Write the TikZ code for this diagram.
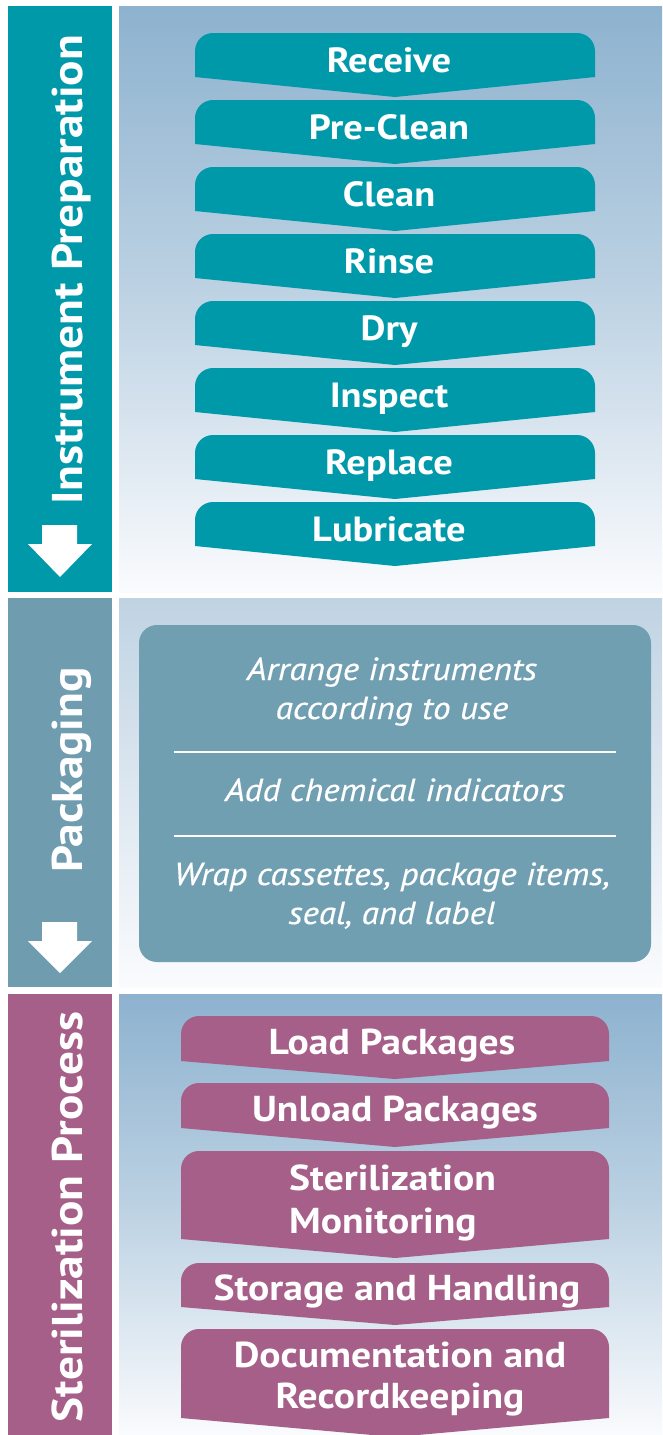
\documentclass[tikz,border=0pt]{standalone}
\usepackage{fontspec}
\setmainfont{PT Sans}[FakeStretch=1.1]
\newfontfamily\itfont{PT Sans Italic}[FakeStretch=1.1,FakeBold=0.4]
\definecolor{teal1}{HTML}{0099AA}
\definecolor{packbar}{HTML}{6F9DAF}
\definecolor{packbox}{HTML}{719FB2}
\definecolor{mag}{HTML}{A55F88}
\definecolor{skytop}{HTML}{8DB2CF}
\definecolor{skytop2}{HTML}{C0D3E3}
\definecolor{skybot}{HTML}{FAFBFD}
\newcommand{\chevshape}[6]{%
  \fill[#6] (#1,#4) -- (#1,#3+18) arc[start angle=180,end angle=270,radius=18]
    -- (#2-18,#3) arc[start angle=270,end angle=360,radius=18]
    -- (#2,#4) -- ({(#1+#2)/2},#5) -- cycle;}
\tikzset{
  vtext/.style={text=white,font=\fontsize{43}{50}\selectfont\bfseries,rotate=90,anchor=base,inner sep=0},
  ctext/.style={text=white,font=\fontsize{35}{43}\selectfont\bfseries,anchor=base,inner sep=0},
  mtext/.style={text=white,font=\fontsize{36}{43}\selectfont\bfseries,anchor=base,inner sep=0},
  itext/.style={text=white,font=\fontsize{32}{40}\selectfont\itfont,anchor=base,inner sep=0},
  downarrow/.style={fill=white},
  sep/.style={draw=white,line width=1.5pt}
}
\begin{document}
\begin{tikzpicture}[x=1pt,y=-1pt]
\useasboundingbox (0,0) rectangle (662,1435);
\fill[white] (0,0) rectangle (662,1435);
% panels
\fill[teal1] (8,6) rectangle (112,592);
\shade[top color=skytop,bottom color=skybot,middle color=skytop!55!skybot] (119,6) rectangle (662,592);
\fill[packbar] (8,598) rectangle (112,987);
\shade[top color=skytop2,bottom color=skybot] (119,598) rectangle (662,987);
\fill[mag] (8,994) rectangle (112,1435);
\shade[top color=skytop,bottom color=skybot,middle color=skytop!55!skybot] (119,994) rectangle (662,1435);
% left arrows
\fill[downarrow] (42,525) -- (77,525) -- (77,544) -- (92,544) -- (60,577) -- (28,544) -- (42,544) -- cycle;
\fill[downarrow] (42,922) -- (77,922) -- (77,941) -- (92,941) -- (60,973) -- (28,941) -- (42,941) -- cycle;
% vertical labels
\node[vtext] (lab1) at (82,270) {Instrument Preparation};
\node[vtext] (lab2) at (82,770) {Packaging};
\node[vtext] (lab3) at (82,1217) {Sterilization Process};
% teal chevrons
\chevshape{195}{595}{33}{77}{97}{teal1}
\chevshape{195}{595}{100}{144}{164}{teal1}
\chevshape{195}{595}{167}{211}{231}{teal1}
\chevshape{195}{595}{234}{278}{298}{teal1}
\chevshape{195}{595}{301}{345}{365}{teal1}
\chevshape{195}{595}{368}{412}{432}{teal1}
\chevshape{195}{595}{435}{479}{499}{teal1}
\chevshape{195}{595}{502}{546}{566}{teal1}
\node[ctext] (receive) at (389,72) {Receive};
\node[ctext] (preclean) at (389,139) {Pre-Clean};
\node[ctext] (clean) at (389,206) {Clean};
\node[ctext] (rinse) at (389,273) {Rinse};
\node[ctext] (dry) at (389,340) {Dry};
\node[ctext] (inspect) at (389,407) {Inspect};
\node[ctext] (replace) at (389,474) {Replace};
\node[ctext] (lubricate) at (389,541) {Lubricate};
% packaging box
\fill[packbox,rounded corners=18] (139,625) rectangle (651,962);
\node[itext] (arrange1) at (392,680) {Arrange instruments};
\node[itext] (arrange2) at (392,719) {according to use};
\draw[sep] (174,752) -- (616,752);
\node[itext] (addci) at (395,801) {Add chemical indicators};
\draw[sep] (174,836) -- (616,836);
\node[itext] (wrap1) at (392,885) {Wrap cassettes, package items,};
\node[itext] (wrap2) at (392,924) {seal, and label};
% magenta chevrons
\chevshape{181}{609}{1016}{1061}{1079}{mag}
\chevshape{181}{609}{1083}{1128}{1147}{mag}
\chevshape{181}{609}{1151}{1239}{1258}{mag}
\chevshape{181}{609}{1263}{1307}{1325}{mag}
\chevshape{181}{609}{1329}{1418}{1437}{mag}
\node[mtext] (load) at (392,1054) {Load Packages};
\node[mtext] (unload) at (395,1121) {Unload Packages};
\node[mtext,anchor=base west] (steril1) at (289,1190) {Sterilization};
\node[mtext,anchor=base west] (steril2) at (289,1233) {Monitoring};
\node[mtext] (storage) at (397,1300) {Storage and Handling};
\node[mtext] (doc1) at (400,1367) {Documentation and};
\node[mtext] (doc2) at (400,1408) {Recordkeeping};
\end{tikzpicture}
\end{document}
